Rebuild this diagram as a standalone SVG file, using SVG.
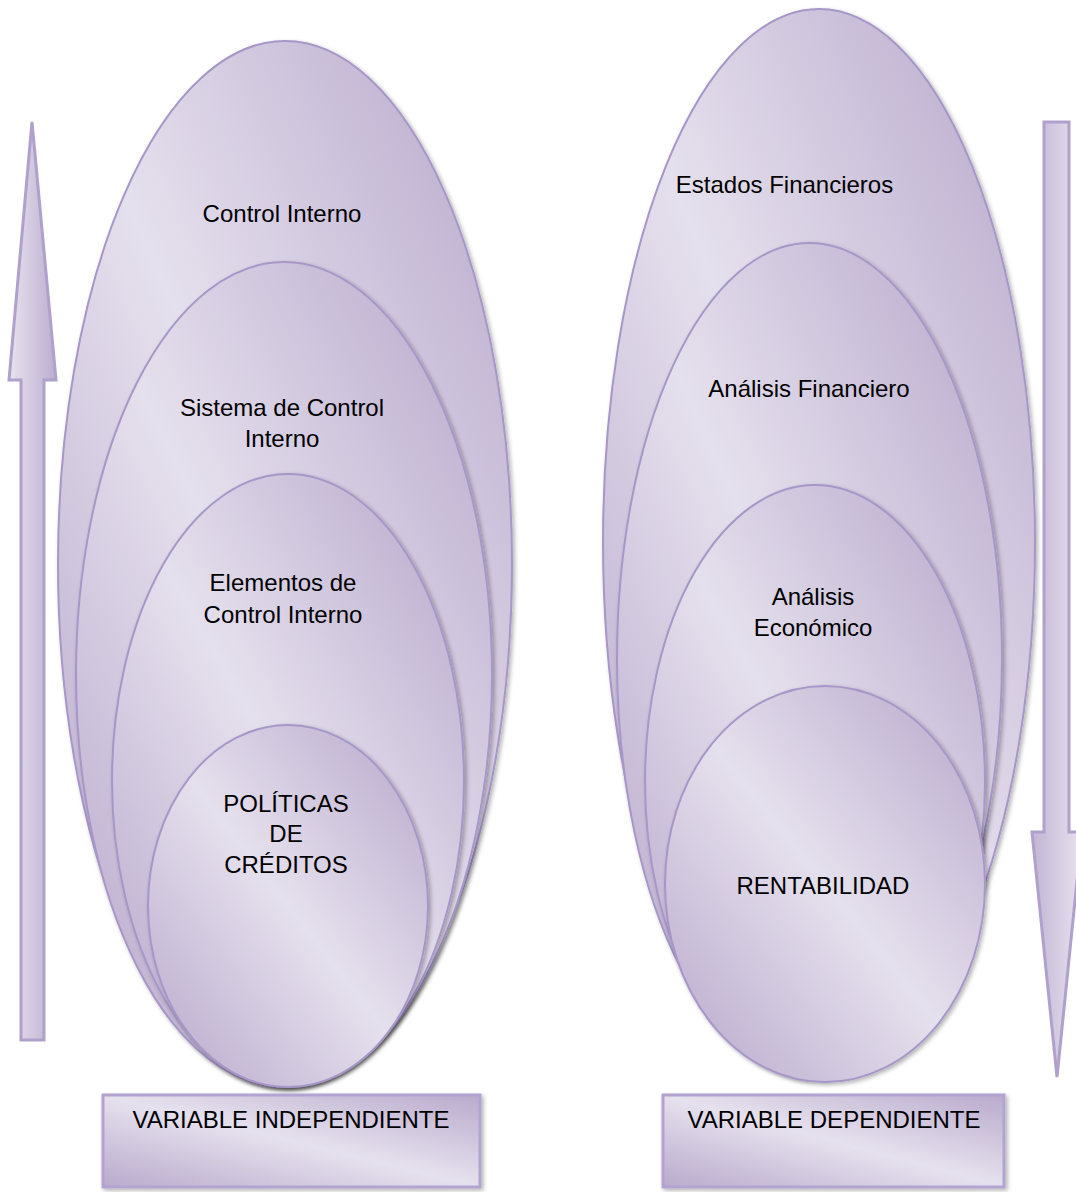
<svg xmlns="http://www.w3.org/2000/svg" width="1076" height="1192" viewBox="0 0 1076 1192">
<defs>
<linearGradient id="gEll" x1="0" y1="1" x2="1" y2="0">
<stop offset="0" stop-color="#b6a6ca"/>
<stop offset="0.5" stop-color="#e5e0ed"/>
<stop offset="1" stop-color="#b6a6ca"/>
</linearGradient>
<linearGradient id="gBox" x1="0" y1="1" x2="1" y2="0">
<stop offset="0" stop-color="#b9aacc"/>
<stop offset="0.5" stop-color="#e6e1ee"/>
<stop offset="1" stop-color="#b9aacc"/>
</linearGradient>
<linearGradient id="gUp" x1="0" y1="0" x2="1" y2="0">
<stop offset="0" stop-color="#e7e2ef"/>
<stop offset="1" stop-color="#bcaecf"/>
</linearGradient>
<linearGradient id="gDown" x1="0" y1="0" x2="1" y2="0">
<stop offset="0" stop-color="#c2b5d4"/>
<stop offset="1" stop-color="#e7e2ef"/>
</linearGradient>
<filter id="sh" x="-10%" y="-10%" width="130%" height="130%">
<feDropShadow dx="2" dy="2" stdDeviation="2" flood-color="#000" flood-opacity="0.3"/>
</filter>
</defs>
<style>
.ell{fill:url(#gEll);stroke:#a797c8;stroke-width:2;filter:url(#sh)}
.box{fill:url(#gBox);stroke:#b3a3d0;stroke-width:3;filter:url(#sh)}
.arrUp{fill:url(#gUp);stroke:#b0a0cc;stroke-width:3}
.arrDn{fill:url(#gDown);stroke:#b0a0cc;stroke-width:3}
.t{font-family:"Liberation Sans",Arial,sans-serif;font-size:24px;fill:#000;text-anchor:middle}
</style>

<g id="arrows">
<path class="arrUp" d="M32,122 L56,380 L44,380 L44,1040 L21,1040 L21,380 L9,380 Z"/>
<path class="arrDn" d="M1044,122 L1069,122 L1069,832 L1082,832 L1057,1077 L1032,832 L1044,832 Z"/>
</g>

<g id="control-interno">
<ellipse class="ell" cx="285" cy="564" rx="227" ry="523"/>
<text class="t" x="282" y="222">Control Interno</text>
</g>
<g id="sistema-control-interno">
<ellipse class="ell" cx="284" cy="674.5" rx="208" ry="412.5"/>
<text class="t" x="282" y="416">Sistema de Control</text>
<text class="t" x="282" y="447">Interno</text>
</g>
<g id="elementos-control-interno">
<ellipse class="ell" cx="288" cy="780.5" rx="176" ry="306.5"/>
<text class="t" x="283" y="591">Elementos de</text>
<text class="t" x="283" y="623">Control Interno</text>
</g>
<g id="politicas-creditos">
<ellipse class="ell" cx="288" cy="906" rx="140" ry="181"/>
<text class="t" x="286" y="812">POLÍTICAS</text>
<text class="t" x="286" y="842">DE</text>
<text class="t" x="286" y="873">CRÉDITOS</text>
</g>

<g id="estados-financieros">
<ellipse class="ell" cx="819" cy="542" rx="216" ry="533"/>
<text class="t" x="784.5" y="193">Estados Financieros</text>
</g>
<g id="analisis-financiero">
<ellipse class="ell" cx="809.5" cy="659" rx="192.5" ry="416"/>
<text class="t" x="809" y="397">Análisis Financiero</text>
</g>
<g id="analisis-economico">
<ellipse class="ell" cx="815" cy="781.5" rx="170" ry="296.5"/>
<text class="t" x="813" y="605">Análisis</text>
<text class="t" x="813" y="636">Económico</text>
</g>
<g id="rentabilidad">
<ellipse class="ell" cx="825" cy="884" rx="160" ry="198"/>
<text class="t" x="823" y="894">RENTABILIDAD</text>
</g>

<g id="variable-independiente">
<rect class="box" x="103" y="1095" width="377" height="92"/>
<text class="t" x="291" y="1128">VARIABLE INDEPENDIENTE</text>
</g>
<g id="variable-dependiente">
<rect class="box" x="663" y="1095" width="341" height="92"/>
<text class="t" x="834" y="1128">VARIABLE DEPENDIENTE</text>
</g>
</svg>
